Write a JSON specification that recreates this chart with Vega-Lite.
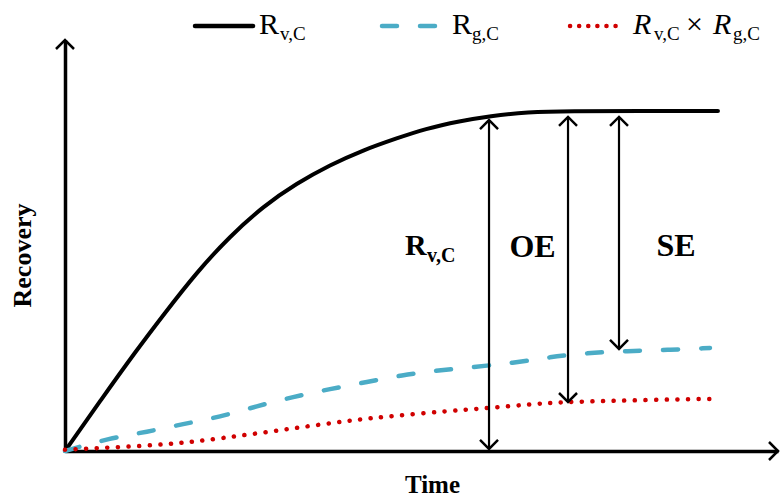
{
  "$schema": "https://vega.github.io/schema/vega-lite/v6.json",
  "width": 713,
  "height": 411,
  "autosize": {"type": "none"},
  "padding": {"left": 65, "top": 40, "right": 2, "bottom": 48},
  "background": "white",
  "config": {"view": {"stroke": null}},
  "datasets": {
    "curves": [
      {"s": "Rv", "x": 0, "y": 0}, {"s": "Rv", "x": 5, "y": 12.34}, {"s": "Rv", "x": 10.06, "y": 24.57}, {"s": "Rv", "x": 13.79, "y": 33.09}, {"s": "Rv", "x": 18.47, "y": 43.5}, {"s": "Rv", "x": 23.14, "y": 52.26}, {"s": "Rv", "x": 27.81, "y": 59.56}, {"s": "Rv", "x": 32.5, "y": 65.13}, {"s": "Rv", "x": 37.17, "y": 69.59}, {"s": "Rv", "x": 41.84, "y": 73.24}, {"s": "Rv", "x": 46.52, "y": 76.08}, {"s": "Rv", "x": 50.5, "y": 78.4}, {"s": "Rv", "x": 55.4, "y": 80.29}, {"s": "Rv", "x": 59.61, "y": 81.51}, {"s": "Rv", "x": 64.8, "y": 82.48}, {"s": "Rv", "x": 70.83, "y": 82.73}, {"s": "Rv", "x": 80.65, "y": 82.73}, {"s": "Rv", "x": 91.58, "y": 82.73},
      {"s": "Rg", "x": 0, "y": 0}, {"s": "Rg", "x": 6.31, "y": 3.16}, {"s": "Rg", "x": 11.5, "y": 4.62}, {"s": "Rg", "x": 16.55, "y": 6.57}, {"s": "Rg", "x": 21.74, "y": 8.27}, {"s": "Rg", "x": 26.93, "y": 10.95}, {"s": "Rg", "x": 31.98, "y": 13.14}, {"s": "Rg", "x": 37.17, "y": 15.09}, {"s": "Rg", "x": 42.36, "y": 16.79}, {"s": "Rg", "x": 47.41, "y": 18.49}, {"s": "Rg", "x": 51.61, "y": 19.46}, {"s": "Rg", "x": 57.22, "y": 20.44}, {"s": "Rg", "x": 62.83, "y": 21.41}, {"s": "Rg", "x": 68.02, "y": 22.87}, {"s": "Rg", "x": 73.21, "y": 23.84}, {"s": "Rg", "x": 78.82, "y": 24.33}, {"s": "Rg", "x": 84.43, "y": 24.57}, {"s": "Rg", "x": 90.46, "y": 25.06},
      {"s": "RR", "x": 0, "y": 0.3}, {"s": "RR", "x": 4.91, "y": 0.73}, {"s": "RR", "x": 10.94, "y": 1.22}, {"s": "RR", "x": 16.55, "y": 1.95}, {"s": "RR", "x": 22.16, "y": 3.16}, {"s": "RR", "x": 28.33, "y": 4.62}, {"s": "RR", "x": 34.36, "y": 6.08}, {"s": "RR", "x": 40.39, "y": 7.54}, {"s": "RR", "x": 46.0, "y": 8.52}, {"s": "RR", "x": 53.58, "y": 9.73}, {"s": "RR", "x": 59.61, "y": 10.46}, {"s": "RR", "x": 65.64, "y": 11.44}, {"s": "RR", "x": 70.41, "y": 11.92}, {"s": "RR", "x": 76.02, "y": 12.17}, {"s": "RR", "x": 82.05, "y": 12.41}, {"s": "RR", "x": 88.08, "y": 12.65}, {"s": "RR", "x": 91.16, "y": 12.65}
    ],
    "legendLines": [
      {"s": "Rv", "x": 18.23, "y": 103.41}, {"s": "Rv", "x": 26.37, "y": 103.41},
      {"s": "Rg", "x": 44.46, "y": 103.41}, {"s": "Rg", "x": 52.59, "y": 103.41},
      {"s": "RR", "x": 70.83, "y": 103.41}, {"s": "RR", "x": 78.26, "y": 103.41}
    ],
    "arrows": [
      {"x": 59.47, "y": 80.53, "y2": 0.49},
      {"x": 70.55, "y": 81.27, "y2": 11.92},
      {"x": 77.7, "y": 81.27, "y2": 24.82}
    ],
    "heads": [
      {"x": 0, "y": 100, "dir": "up"},
      {"x": 100, "y": 0, "dir": "right"},
      {"x": 59.47, "y": 80.53, "dir": "up"}, {"x": 59.47, "y": 0.49, "dir": "down"},
      {"x": 70.55, "y": 81.27, "dir": "up"}, {"x": 70.55, "y": 11.92, "dir": "down"},
      {"x": 77.7, "y": 81.27, "dir": "up"}, {"x": 77.7, "y": 24.82, "dir": "down"}
    ],
    "labels": [
      {"kind": "big", "x": 65.57, "y": 47.2, "text": "OE"},
      {"kind": "big", "x": 85.69, "y": 47.45, "text": "SE"},
      {"kind": "bigR", "x": 47.69, "y": 47.69, "text": "R"},
      {"kind": "sub", "x": 50.77, "y": 45.99, "text": "v,C"},
      {"kind": "lr", "x": 27.21, "y": 101.46, "text": "R"},
      {"kind": "lr", "x": 54.28, "y": 101.46, "text": "R"},
      {"kind": "lr", "x": 87.1, "y": 101.46, "text": "×"},
      {"kind": "li", "x": 79.66, "y": 101.46, "text": "R"},
      {"kind": "li", "x": 90.88, "y": 101.46, "text": "R"},
      {"kind": "ls", "x": 30.15, "y": 100.0, "text": "v,C"},
      {"kind": "ls", "x": 57.08, "y": 100.0, "text": "g,C"},
      {"kind": "ls", "x": 82.6, "y": 100.0, "text": "v,C"},
      {"kind": "ls", "x": 93.69, "y": 100.0, "text": "g,C"}
    ]
  },
  "encoding": {
    "x": {
      "field": "x", "type": "quantitative",
      "scale": {"domain": [0, 100], "nice": false, "zero": false},
      "axis": {"title": "Time", "labels": false, "ticks": false, "grid": false, "domainColor": "black", "domainWidth": 3.5, "titleFont": "Liberation Serif", "titleFontSize": 25, "titleFontWeight": "bold", "titleColor": "black", "titlePadding": 21, "titleX": 367}
    },
    "y": {
      "field": "y", "type": "quantitative",
      "scale": {"domain": [0, 100], "nice": false, "zero": false},
      "axis": {"title": "Recovery", "labels": false, "ticks": false, "grid": false, "domainColor": "black", "domainWidth": 3.5, "titleFont": "Liberation Serif", "titleFontSize": 26, "titleFontWeight": "bold", "titleColor": "black", "titlePadding": 30, "titleY": 215}
    }
  },
  "layer": [
    {
      "data": {"name": "curves"},
      "transform": [{"filter": "datum.s === 'Rv'"}],
      "mark": {"type": "line", "color": "black", "strokeWidth": 4, "interpolate": "basis", "strokeCap": "round"}
    },
    {
      "data": {"name": "curves"},
      "transform": [{"filter": "datum.s === 'Rg'"}],
      "mark": {"type": "line", "color": "#4BACC6", "strokeWidth": 4.5, "interpolate": "basis", "strokeCap": "round", "strokeDash": [15, 23]}
    },
    {
      "data": {"name": "curves"},
      "transform": [{"filter": "datum.s === 'RR'"}],
      "mark": {"type": "line", "color": "#D00000", "strokeWidth": 4.5, "interpolate": "basis", "strokeCap": "round", "strokeDash": [0.1, 10.5]}
    },
    {
      "data": {"name": "legendLines"},
      "transform": [{"filter": "datum.s === 'Rv'"}],
      "mark": {"type": "line", "color": "black", "strokeWidth": 4.5, "strokeCap": "round"}
    },
    {
      "data": {"name": "legendLines"},
      "transform": [{"filter": "datum.s === 'Rg'"}],
      "mark": {"type": "line", "color": "#4BACC6", "strokeWidth": 4.5, "strokeCap": "round", "strokeDash": [15, 23]}
    },
    {
      "data": {"name": "legendLines"},
      "transform": [{"filter": "datum.s === 'RR'"}],
      "mark": {"type": "line", "color": "#D00000", "strokeWidth": 4.5, "strokeCap": "round", "strokeDash": [0.1, 9]}
    },
    {
      "data": {"name": "arrows"},
      "mark": {"type": "rule", "color": "black", "strokeWidth": 2.2},
      "encoding": {"y2": {"field": "y2"}}
    },
    {
      "data": {"name": "heads"},
      "mark": {"type": "point", "filled": false, "color": "black", "strokeWidth": 2.5, "size": 324, "opacity": 1},
      "encoding": {
        "shape": {"field": "dir", "type": "nominal", "scale": {"domain": ["up", "down", "right"], "range": ["M-1,1L0,0L1,1", "M-1,-1L0,0L1,-1", "M-1,-1L0,0L-1,1"]}, "legend": null}
      }
    },
    {
      "data": {"name": "labels"},
      "transform": [{"filter": "datum.kind === 'big'"}],
      "mark": {"type": "text", "font": "Liberation Serif", "fontSize": 32, "fontWeight": "bold", "align": "center", "baseline": "alphabetic", "color": "black"},
      "encoding": {"text": {"field": "text"}}
    },
    {
      "data": {"name": "labels"},
      "transform": [{"filter": "datum.kind === 'bigR'"}],
      "mark": {"type": "text", "font": "Liberation Serif", "fontSize": 30, "fontWeight": "bold", "align": "left", "baseline": "alphabetic", "color": "black"},
      "encoding": {"text": {"field": "text"}}
    },
    {
      "data": {"name": "labels"},
      "transform": [{"filter": "datum.kind === 'sub'"}],
      "mark": {"type": "text", "font": "Liberation Serif", "fontSize": 20, "fontWeight": "bold", "align": "left", "baseline": "alphabetic", "color": "black"},
      "encoding": {"text": {"field": "text"}}
    },
    {
      "data": {"name": "labels"},
      "transform": [{"filter": "datum.kind === 'lr'"}],
      "mark": {"type": "text", "font": "Liberation Serif", "fontSize": 30, "align": "left", "baseline": "alphabetic", "color": "black"},
      "encoding": {"text": {"field": "text"}}
    },
    {
      "data": {"name": "labels"},
      "transform": [{"filter": "datum.kind === 'li'"}],
      "mark": {"type": "text", "font": "Liberation Serif", "fontSize": 30, "fontStyle": "italic", "align": "left", "baseline": "alphabetic", "color": "black"},
      "encoding": {"text": {"field": "text"}}
    },
    {
      "data": {"name": "labels"},
      "transform": [{"filter": "datum.kind === 'ls'"}],
      "mark": {"type": "text", "font": "Liberation Serif", "fontSize": 19, "align": "left", "baseline": "alphabetic", "color": "black"},
      "encoding": {"text": {"field": "text"}}
    }
  ]
}
